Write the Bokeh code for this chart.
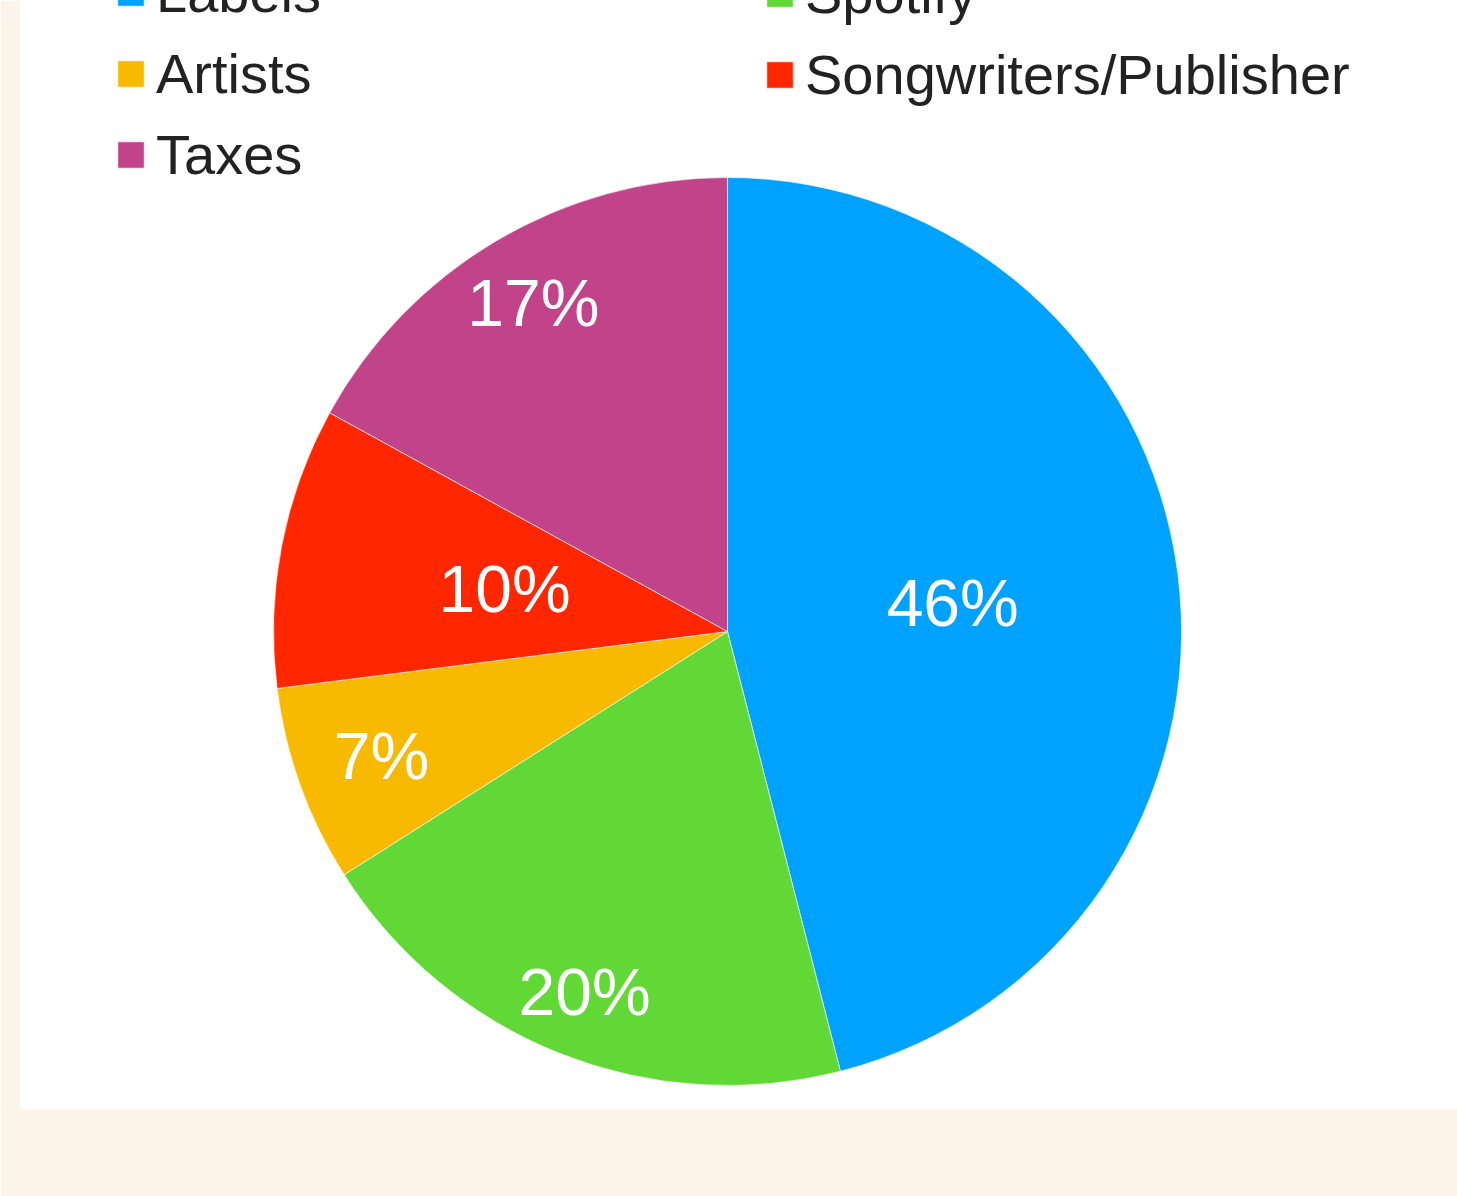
import math
from bokeh.plotting import figure
from bokeh.models import ColumnDataSource, Range1d, Legend, LegendItem
from bokeh.core.properties import value
from bokeh.embed import file_html
from bokeh.resources import INLINE

# ---- data ----
categories = ["Labels", "Spotify", "Artists", "Songwriters/Publisher", "Taxes"]
shares = [46, 20, 7, 10, 17]
colors = ["#00A2FF", "#61D836", "#F8BA00", "#FF2600", "#C1448A"]
# layout: label distance from centre as a fraction of the radius
label_radius_frac = [0.5, 0.855, 0.81, 0.5, 0.84]

RADIUS = 454
total = sum(shares)

starts, ends, lx, ly, texts = [], [], [], [], []
cum = 0
for v, rf in zip(shares, label_radius_frac):
    a0 = math.pi / 2 - 2 * math.pi * cum / total
    a1 = math.pi / 2 - 2 * math.pi * (cum + v) / total
    starts.append(a1)
    ends.append(a0)
    mid = (a0 + a1) / 2
    lx.append(rf * RADIUS * math.cos(mid))
    ly.append(rf * RADIUS * math.sin(mid))
    texts.append(f"{v}%")
    cum += v

src = ColumnDataSource(dict(cat=categories, start=starts, end=ends, color=colors))
lab = ColumnDataSource(dict(x=lx, y=ly, t=texts))

p = figure(width=1457, height=1196, output_backend="svg", toolbar_location=None,
           x_range=Range1d(-707, 730), y_range=Range1d(-477, 631),
           min_border_left=20, min_border_right=0, min_border_top=0, min_border_bottom=88)
p.background_fill_color = "#FFFFFF"
p.border_fill_color = "#FCF3E9"
p.outline_line_color = None
p.axis.visible = False
p.grid.visible = False

r = p.wedge(x=0, y=0, radius=RADIUS, start_angle="start", end_angle="end",
            fill_color="color", line_color="white", line_width=0.6, source=src)

p.text(x="x", y="y", text="t", source=lab, text_color="white",
       text_font=value("Liberation Sans"), text_font_size="66px",
       text_align="center", text_baseline="middle")

def make_legend(idxs, loc):
    items = [LegendItem(label=categories[i], renderers=[r], index=i) for i in idxs]
    lg = Legend(items=items, location=loc, orientation="vertical",
                glyph_width=33, glyph_height=33, label_height=64, spacing=16,
                label_standoff=9, padding=0, margin=0,
                label_text_font="Liberation Sans", label_text_font_size="56px",
                label_text_color="#222222",
                border_line_alpha=0, background_fill_alpha=0)
    return lg

p.add_layout(make_legend([0, 2, 4], (94, 921)), "center")
p.add_layout(make_legend([1, 3], (743, 1001)), "center")

open("out.html", "w").write(file_html(p, INLINE))
